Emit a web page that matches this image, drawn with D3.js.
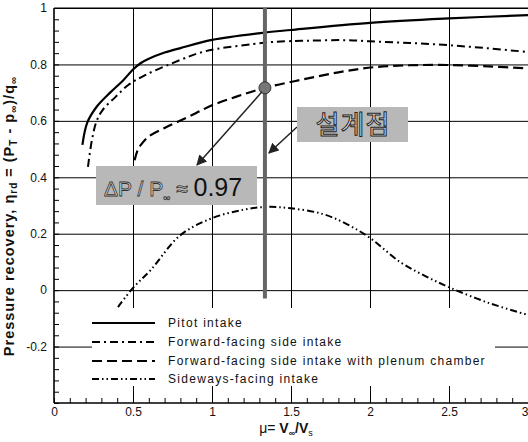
<!DOCTYPE html>
<html>
<head>
<meta charset="utf-8">
<script src="https://cdn.jsdelivr.net/npm/d3@7"></script>
<style>
  html, body { margin: 0; padding: 0; background: #fff; }
  svg { display: block; font-family: "Liberation Sans", Arial, sans-serif; }
</style>
</head>
<body>
<svg id="chart" width="528" height="442"></svg>
<script>
// Pressure recovery vs. velocity ratio for four intake types
const pitotX = [0.18, 0.21, 0.27, 0.355, 0.44, 0.5, 0.55, 0.6, 0.7, 0.8, 1.0, 1.32, 1.5, 2.0, 2.5, 3.0];
const pitotY = [0.515, 0.593, 0.65, 0.70, 0.745, 0.782, 0.805, 0.82, 0.842, 0.858, 0.887, 0.912, 0.922, 0.947, 0.963, 0.975];

const forwardX = [0.215, 0.24, 0.27, 0.31, 0.39, 0.47, 0.58, 0.8, 0.92, 1.03, 1.26, 1.39, 1.6, 1.85, 2.0, 2.25, 2.5, 2.75, 3.0];
const forwardY = [0.437, 0.532, 0.60, 0.64, 0.685, 0.727, 0.763, 0.816, 0.841, 0.855, 0.872, 0.88, 0.884, 0.886, 0.882, 0.876, 0.868, 0.857, 0.844];

const plenumX = [0.51, 0.53, 0.55, 0.6, 0.7, 0.78, 0.9, 1.0, 1.15, 1.335, 1.56, 1.8, 2.02, 2.25, 2.49, 2.75, 3.0];
const plenumY = [0.46, 0.497, 0.515, 0.545, 0.575, 0.596, 0.628, 0.655, 0.685, 0.717, 0.745, 0.772, 0.79, 0.797, 0.798, 0.793, 0.786];

const sidewaysX = [0.405, 0.5, 0.61, 0.8, 1.0, 1.2, 1.35, 1.5, 1.7, 1.85, 2.0, 2.19, 2.35, 2.51, 2.75, 3.0];
const sidewaysY = [-0.06, 0.008, 0.07, 0.195, 0.255, 0.285, 0.295, 0.29, 0.27, 0.235, 0.185, 0.10, 0.05, 0.008, -0.045, -0.088];

const seriesNames = [
  "Pitot intake",
  "Forward-facing side intake",
  "Forward-facing side intake with plenum chamber",
  "Sideways-facing intake"
];

const xTicks = [0, 0.5, 1, 1.5, 2, 2.5, 3];
const xTickLabels = ["0", "0.5", "1", "1.5", "2", "2.5", "3"];
const yTicks = [-0.2, 0, 0.2, 0.4, 0.6, 0.8, 1];
const yTickLabels = ["-0.2", "0", "0.2", "0.4", "0.6", "0.8", "1"];

// Design point
const designX = 1.335;
const designY = 0.717;
const designLineBottom = -0.03;
const designLabel = "설계점";
const ratioValue = "0.97";

const svg = d3.select("#chart");
const plotLeft = 54, plotRight = 528, plotTop = 8, plotBottom = 403;

const x = d3.scaleLinear().domain([0, 3]).range([plotLeft, plotRight]);
const y = d3.scaleLinear().domain([-0.4, 1]).range([plotBottom, plotTop]);

// Grid
const grid = svg.append("g");
grid.append("g")
  .attr("transform", `translate(0,${plotBottom})`)
  .call(d3.axisBottom(x).tickValues([0.5, 1, 1.5, 2, 2.5]).tickSize(-(plotBottom - plotTop)).tickFormat(""))
  .call(g => g.select(".domain").remove())
  .call(g => g.selectAll("line").attr("stroke", "#000").attr("stroke-width", 1));
grid.append("g")
  .attr("transform", `translate(${plotLeft},0)`)
  .call(d3.axisLeft(y).tickValues([-0.2, 0, 0.2, 0.4, 0.6, 0.8, 1]).tickSize(-(plotRight - plotLeft)).tickFormat(""))
  .call(g => g.select(".domain").remove())
  .call(g => g.selectAll("line").attr("stroke", "#000").attr("stroke-width", 1));

// Minor ticks
svg.append("g")
  .attr("transform", `translate(${plotLeft},0)`)
  .call(d3.axisLeft(y).tickValues(d3.range(-0.4, 1.0001, 0.04)).tickSize(-5).tickFormat(""))
  .call(g => g.select(".domain").remove())
  .call(g => g.selectAll("line").attr("stroke", "#000").attr("stroke-width", 1));
svg.append("g")
  .attr("transform", `translate(0,${plotBottom})`)
  .call(d3.axisBottom(x).tickValues(d3.range(0, 3.0001, 0.1)).tickSize(-5).tickFormat(""))
  .call(g => g.select(".domain").remove())
  .call(g => g.selectAll("line").attr("stroke", "#000").attr("stroke-width", 1));

// Axis lines
svg.append("line").attr("x1", plotLeft).attr("x2", plotLeft).attr("y1", plotTop).attr("y2", plotBottom)
  .attr("stroke", "#000").attr("stroke-width", 1.6);
svg.append("line").attr("x1", plotLeft).attr("x2", plotRight).attr("y1", plotBottom).attr("y2", plotBottom)
  .attr("stroke", "#000").attr("stroke-width", 1.6);
svg.append("line").attr("x1", plotLeft).attr("x2", plotRight).attr("y1", plotTop).attr("y2", plotTop)
  .attr("stroke", "#000").attr("stroke-width", 1.2);

// Tick labels
svg.append("g")
  .attr("transform", `translate(0,${plotBottom})`)
  .call(d3.axisBottom(x).tickValues(xTicks).tickSize(0).tickPadding(4)
    .tickFormat((d, i) => xTickLabels[i]))
  .call(g => g.select(".domain").remove())
  .call(g => g.selectAll("text").attr("font-size", 12).attr("fill", "#111")
    .attr("font-family", "Liberation Sans, Arial, sans-serif")
    .attr("text-anchor", d => d === 3 ? "end" : "middle"));
svg.append("g")
  .attr("transform", `translate(${plotLeft},0)`)
  .call(d3.axisLeft(y).tickValues(yTicks).tickSize(0).tickPadding(7)
    .tickFormat((d, i) => yTickLabels[i]))
  .call(g => g.select(".domain").remove())
  .call(g => g.selectAll("text").attr("font-size", 12).attr("fill", "#111")
    .attr("font-family", "Liberation Sans, Arial, sans-serif"));

// Legend background
const legend = svg.append("g");
legend.append("rect").attr("x", 92).attr("y", 308).attr("width", 403).attr("height", 78).attr("fill", "#fff");

// Series
const styles = [
  { xs: pitotX, ys: pitotY, dash: null, w: 2.2 },
  { xs: forwardX, ys: forwardY, dash: "8,4,2,4", w: 2 },
  { xs: plenumX, ys: plenumY, dash: "10,5", w: 2.2 },
  { xs: sidewaysX, ys: sidewaysY, dash: "7,3,1.5,3,1.5,3", w: 2 }
];
const line = d3.line().x(d => x(d[0])).y(d => y(d[1])).curve(d3.curveCatmullRom.alpha(0.5));
styles.forEach(s => {
  svg.append("path")
    .datum(s.xs.map((v, i) => [v, s.ys[i]]))
    .attr("d", line)
    .attr("fill", "none")
    .attr("stroke", "#000")
    .attr("stroke-width", s.w)
    .attr("stroke-dasharray", s.dash);
});

// Legend entries
const rowY = [323, 342, 361, 379];
styles.forEach((s, i) => {
  legend.append("line")
    .attr("x1", 92).attr("x2", 155).attr("y1", rowY[i]).attr("y2", rowY[i])
    .attr("stroke", "#000").attr("stroke-width", s.w)
    .attr("stroke-dasharray", s.dash);
  legend.append("text")
    .attr("x", 168).attr("y", rowY[i] + 4)
    .attr("font-size", 12).attr("letter-spacing", 1.3)
    .attr("fill", "#111")
    .text(seriesNames[i]);
});

// Design-point vertical line
svg.append("line")
  .attr("x1", x(designX)).attr("x2", x(designX))
  .attr("y1", y(1)).attr("y2", y(designLineBottom))
  .attr("stroke", "#666").attr("stroke-width", 4);

// Arrow marker
const defs = svg.append("defs");
defs.append("marker").attr("id", "arrow")
  .attr("viewBox", "0 0 10 10").attr("refX", 9).attr("refY", 5)
  .attr("markerWidth", 7).attr("markerHeight", 7).attr("orient", "auto")
  .append("path").attr("d", "M0,0 L10,5 L0,10 z").attr("fill", "#222");

// Design point marker
svg.append("circle")
  .attr("cx", x(designX)).attr("cy", y(designY)).attr("r", 6)
  .attr("fill", "#777").attr("stroke", "#333").attr("stroke-width", 1);

// Arrows
svg.append("line")
  .attr("x1", x(designX) - 3).attr("y1", y(designY) + 4)
  .attr("x2", 197).attr("y2", 165)
  .attr("stroke", "#222").attr("stroke-width", 1.5).attr("marker-end", "url(#arrow)");
svg.append("line")
  .attr("x1", 297).attr("y1", 127)
  .attr("x2", x(designX) + 4).attr("y2", 153)
  .attr("stroke", "#222").attr("stroke-width", 1.5).attr("marker-end", "url(#arrow)");

// Annotation boxes
svg.append("rect").attr("x", 96).attr("y", 166).attr("width", 161).attr("height", 39)
  .attr("fill", "#b8b8b8");
const ratio = svg.append("text").attr("x", 104).attr("y", 196)
  .attr("font-size", 21).attr("fill", "#111");
ratio.append("tspan").attr("fill", "#ddd").attr("stroke", "#333").attr("stroke-width", 0.8).text("ΔP / P");
ratio.append("tspan").attr("font-size", 10).attr("dy", 5).attr("fill", "#ddd").attr("stroke", "#333").attr("stroke-width", 0.5).text("∞");
ratio.append("tspan").attr("dy", -5).attr("fill", "#ddd").attr("stroke", "#333").attr("stroke-width", 0.8).text(" ≈ ");
ratio.append("tspan").attr("font-size", 25).text(ratioValue);

svg.append("rect").attr("x", 297).attr("y", 107).attr("width", 111).attr("height", 35)
  .attr("fill", "#b8b8b8");
svg.append("text").attr("x", 353).attr("y", 134).attr("text-anchor", "middle")
  .attr("font-family", "Noto Sans CJK KR, sans-serif").attr("letter-spacing", 1)
  .attr("font-size", 26).attr("fill", "#e8e8e8").attr("stroke", "#222").attr("stroke-width", 1)
  .text(designLabel);

// Axis titles
const yTitle = svg.append("text")
  .attr("transform", "translate(14,216) rotate(-90)")
  .attr("text-anchor", "middle").attr("font-weight", "bold").attr("font-size", 14.5)
  .attr("letter-spacing", 1).attr("fill", "#111");
yTitle.append("tspan").text("Pressure recovery, η");
yTitle.append("tspan").attr("font-size", 10).attr("dy", 3).text("rd");
yTitle.append("tspan").attr("dy", -3).text(" = (P");
yTitle.append("tspan").attr("font-size", 10).attr("dy", 3).text("T");
yTitle.append("tspan").attr("dy", -3).text(" - p");
yTitle.append("tspan").attr("font-size", 10).attr("dy", 3).text("∞");
yTitle.append("tspan").attr("dy", -3).text(")/q");
yTitle.append("tspan").attr("font-size", 10).attr("dy", 3).text("∞");

const xTitle = svg.append("text")
  .attr("x", 286).attr("y", 433).attr("text-anchor", "middle")
  .attr("font-size", 14).attr("fill", "#111");
xTitle.append("tspan").text("μ= ");
xTitle.append("tspan").attr("font-weight", "bold").text("V");
xTitle.append("tspan").attr("font-size", 9).attr("dy", 3).attr("font-weight", "bold").text("∞");
xTitle.append("tspan").attr("dy", -3).attr("font-weight", "bold").text("/V");
xTitle.append("tspan").attr("font-size", 9).attr("dy", 3).text("s");
</script>
</body>
</html>
